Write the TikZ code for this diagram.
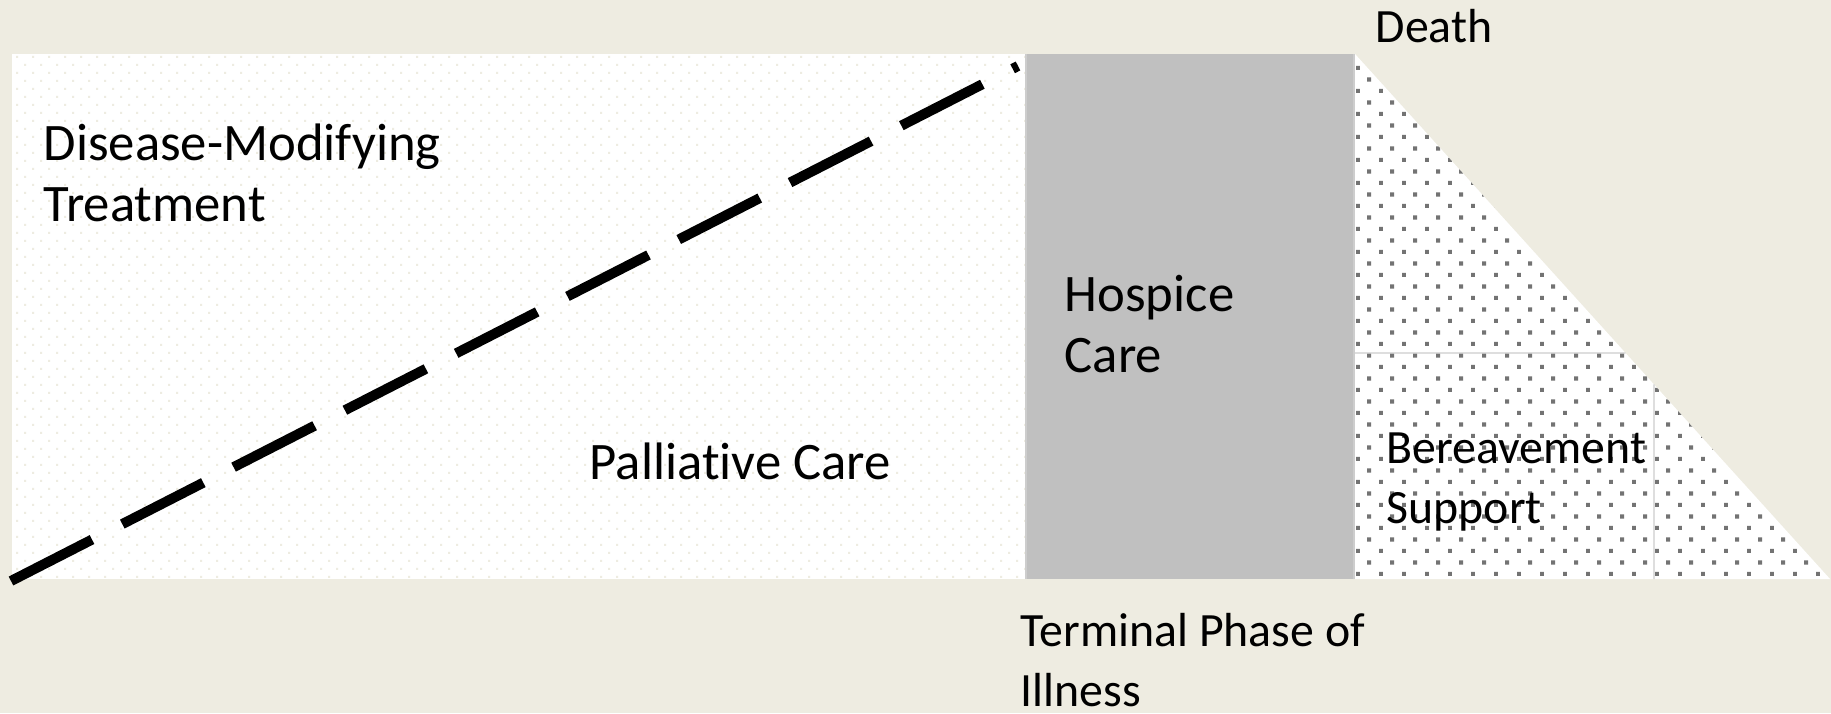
\documentclass[tikz,border=0pt]{standalone}
\usepackage{fontspec}
\setmainfont{Carlito}[Ligatures=NoCommon]
\usepackage{tikz}
\usetikzlibrary{
  patterns,
  calc
}
\usepackage{xcolor}
\definecolor{bgtan}{RGB}{238,236,225}
\definecolor{hospicegray}{RGB}{192,192,192}
\definecolor{dotgray}{RGB}{115,115,115}
\definecolor{edgegray}{RGB}{205,205,205}

% faint staggered dots for the palliative field
\pgfdeclarepatternformonly{finedots}{\pgfpointorigin}{\pgfpoint{4.55pt}{4.55pt}}%
  {\pgfpoint{4.55pt}{4.55pt}}{%
  \pgfpathrectangle{\pgfpoint{0pt}{0pt}}{\pgfpoint{0.6pt}{0.6pt}}%
  \pgfpathrectangle{\pgfpoint{2.28pt}{2.28pt}}{\pgfpoint{0.6pt}{0.6pt}}%
  \pgfusepath{fill}}
% coarse staggered dots for bereavement
\pgfdeclarepatternformonly{coarsedots}{\pgfpointorigin}{\pgfpoint{6.43pt}{6.54pt}}%
  {\pgfpoint{6.43pt}{6.54pt}}{%
  \pgfpathrectangle{\pgfpoint{0pt}{0pt}}{\pgfpoint{1.15pt}{1.15pt}}%
  \pgfpathrectangle{\pgfpoint{3.21pt}{3.27pt}}{\pgfpoint{1.15pt}{1.15pt}}%
  \pgfusepath{fill}}

\tikzset{
  bigtext/.style={font=\fontsize{15pt}{17.5pt}\selectfont, inner sep=0pt,
    anchor=base west, align=left},
  smalltext/.style={font=\fontsize{13.6pt}{16.8pt}\selectfont, inner sep=0pt,
    anchor=base west, align=left}
}

\begin{document}
\begin{tikzpicture}
  % Canvas
  \fill[bgtan] (0,0) rectangle (18.31,7.13);
  \useasboundingbox (0,0) rectangle (18.31,7.13);

  % Corners of the three phases
  \coordinate (PL) at (0.12,1.34);
  \coordinate (PR) at (10.25,6.59);
  \coordinate (HL) at (10.27,1.34);
  \coordinate (HR) at (13.53,6.59);
  \coordinate (BL) at (13.55,1.34);
  \coordinate (BT) at (13.55,6.59);
  \coordinate (BR) at (18.30,1.34);

  % Palliative field
  \fill[white] (PL) rectangle (PR);
  \fill[pattern=finedots, pattern color=bgtan] (PL) rectangle (PR);

  % Hospice block
  \fill[hospicegray] (HL) rectangle (HR);
  \draw[edgegray, line width=0.5pt] (10.26,1.34) -- (10.26,6.59);
  \draw[edgegray, line width=0.5pt] (13.54,1.34) -- (13.54,6.59);

  % Bereavement wedge
  \fill[white] (BL) -- (BT) -- (BR) -- cycle;
  \fill[pattern=coarsedots, pattern color=dotgray] (BL) -- (BT) -- (BR) -- cycle;
  \coordinate (HA) at (13.55,3.60);
  \coordinate (HB) at ($(BT)!{(6.59-3.60)/5.25}!(BR)$);
  \coordinate (VA) at (16.54,1.34);
  \coordinate (VB) at ($(BT)!{(16.54-13.55)/4.75}!(BR)$);
  \draw[edgegray, line width=0.4pt] (HA) -- (HB);
  \draw[edgegray, line width=0.4pt] (VA) -- (VB);

  % Disease-modifying treatment tapering off
  \coordinate (DS) at (0.11,1.32);
  \coordinate (DE) at (10.18,6.47);
  \draw[line width=2.85pt, dash pattern=on 0.91cm off 0.34cm] (DS) -- (DE);

  % Labels (base = last line)
  \node[bigtext] (dmt) at (0.43,4.91) {Disease-Modifying\\Treatment};
  \node[bigtext] (hospice) at (10.64,3.40) {Hospice\\Care};
  \node[bigtext] (palliative) at (5.89,2.34) {Palliative Care};
  \node[smalltext] (death) at (13.75,6.70) {Death};
  \node[smalltext] (terminal) at (10.20,0.07) {Terminal Phase of\\Illness};
  \node[smalltext] (bereave) at (13.86,1.90) {Bereavement\\Support};
\end{tikzpicture}
\end{document}
